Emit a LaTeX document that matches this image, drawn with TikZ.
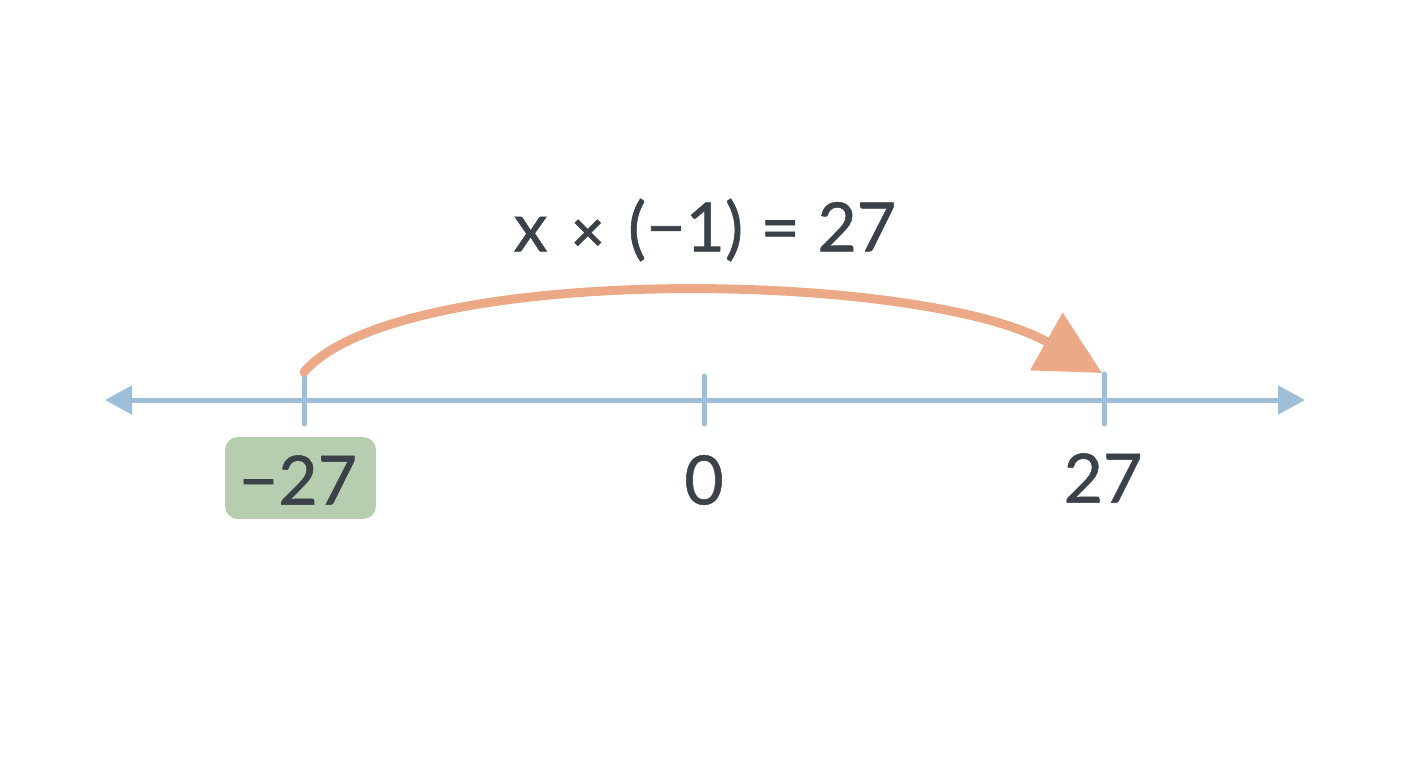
\documentclass[tikz,border=0pt]{standalone}
\usepackage{fontspec}
\setmainfont{Lato}[FakeBold=0.8]
\newfontfamily\heavyfont{Lato}[FakeBold=2.5]
\usetikzlibrary{arrows.meta}
\definecolor{axisblue}{HTML}{9DBFD9}
\definecolor{arcorange}{HTML}{EBA988}
\definecolor{boxgreen}{HTML}{B6CDB0}
\definecolor{inkgray}{HTML}{3A4148}
\tikzset{
  axisline/.style={draw=axisblue, line width=5pt, line cap=round},
  ticktick/.style={draw=axisblue, line width=5pt, line cap=round},
  numlabel/.style={text=inkgray, font=\fontsize{68}{80}\selectfont, inner sep=0pt},
  hilite/.style={fill=boxgreen, rounded corners=13pt, minimum width=151pt, minimum height=82pt},
  jump/.style={draw=arcorange, line width=9pt, line cap=round,
    -{Triangle[length=64pt,width=64pt]}}
}
\begin{document}
\begin{tikzpicture}[x=1pt,y=-1pt]
\useasboundingbox (0,0) rectangle (1408,768);
% axis
\coordinate (L) at (105,400);
\coordinate (R) at (1305,400);
\draw[axisline, {Triangle[length=27pt,width=28pt]}-{Triangle[length=27pt,width=28pt]}] (L) -- (R);
% ticks
\coordinate (t1a) at (304,374); \coordinate (t1b) at (304,424);
\coordinate (t2a) at (704,376); \coordinate (t2b) at (704,424);
\coordinate (t3a) at (1104,374); \coordinate (t3b) at (1104,424);
\draw[ticktick] (t1a) -- (t1b);
\draw[ticktick] (t2a) -- (t2b);
\draw[ticktick] (t3a) -- (t3b);
% labels
\node[hilite] (box) at (300.5,478) {};
\node[numlabel] (lm27) at (298,480) {−27};
\node[numlabel] (l0) at (704,480) {0};
\node[numlabel] (l27) at (1103,478) {27};
% equation
\node[numlabel] (eq) at (705,230) {x\hspace{24pt}{\heavyfont\fontsize{56}{60}\selectfont ×}\hspace{24pt}(−1) = 27};
% jump arc
\coordinate (s) at (304,372);
\coordinate (e) at (1102,373);
\draw[jump] (s) .. controls (400,262) and (920,270) .. (e);
\end{tikzpicture}
\end{document}
